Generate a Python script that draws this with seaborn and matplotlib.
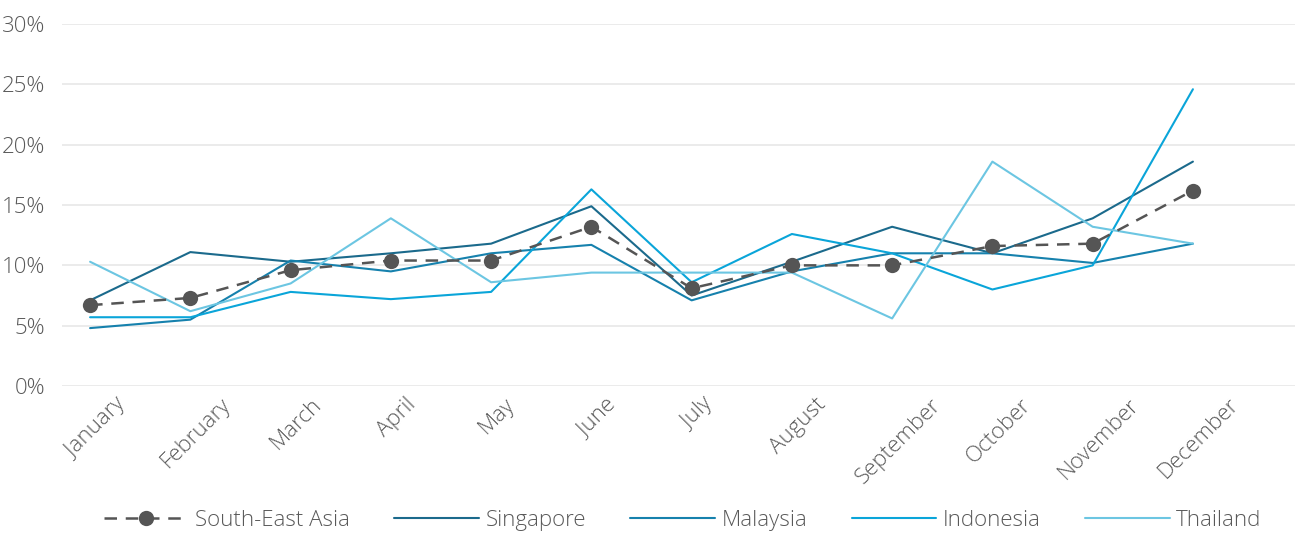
"""
plot.py
-------
Monthly share by country vs the South-East Asia average.
Saves out.png (1303x533).
"""

import matplotlib
matplotlib.use("Agg")  # no display here
import matplotlib.pyplot as plt
import matplotlib.transforms as mtransforms
import seaborn as sns
import numpy as np

months = ["January", "February", "March", "April", "May", "June",
          "July", "August", "September", "October", "November", "December"]

sea = [6.7, 7.3, 9.6, 10.4, 10.4, 13.2, 8.1, 10.0, 10.0, 11.6, 11.8, 16.2]
singapore = [7.1, 11.1, 10.3, 11.0, 11.8, 14.9, 7.5, 10.3, 13.2, 11.0, 13.9, 18.6]
malaysia = [4.8, 5.5, 10.4, 9.5, 11.0, 11.7, 7.1, 9.5, 11.0, 11.0, 10.2, 11.8]
indonesia = [5.7, 5.7, 7.8, 7.2, 7.8, 16.3, 8.6, 12.6, 11.0, 8.0, 10.0, 24.6]
thailand = [10.3, 6.2, 8.5, 13.9, 8.6, 9.4, 9.4, 9.4, 5.6, 18.6, 13.2, 11.8]

y_ticks = [0, 5, 10, 15, 20, 25, 30]

TEXT = "#595959"

sns.set_theme(style="white")
plt.rcParams["font.family"] = ["Open Sans", "DejaVu Sans"]

fig = plt.figure(figsize=(13.03, 5.33), dpi=100)
ax = fig.add_axes([0.0476, 0.2758, 0.9464, 0.679])

x = np.arange(len(months))

country_lines = [
    ("Singapore", singapore, "#1b6a8c"),
    ("Malaysia", malaysia, "#1681ad"),
    ("Indonesia", indonesia, "#0aa5d9"),
    ("Thailand", thailand, "#6cc6e2"),
]

# average goes first in the legend, but on top of the country lines
sns.lineplot(x=x, y=sea, ax=ax, color="#555555", linestyle="--",
             linewidth=1.8, marker="o", markersize=11, markeredgewidth=0,
             label="South-East Asia", zorder=5)
ax.lines[-1].set_dashes((5, 3.5))

for name, values, color in country_lines:
    sns.lineplot(x=x, y=values, ax=ax, color=color, linewidth=1.5,
                 label=name, zorder=3)

ax.set_xlim(-0.28, 12.02)
ax.set_ylim(0, 30)
ax.set_yticks(y_ticks)
ax.set_yticklabels([f"{v}%" for v in y_ticks])
ax.set_xticks(x)
ax.set_xticklabels(months, rotation=45, ha="center", va="top")

ax.grid(axis="y", color="#e9e9e9", linewidth=1.3)
ax.set_axisbelow(True)
sns.despine(ax=ax, left=True, bottom=True)
ax.tick_params(axis="both", length=0, labelsize=16, labelcolor=TEXT)
ax.tick_params(axis="y", pad=12)
ax.tick_params(axis="x", pad=6)

# nudge the rotated month labels a little to the right, like the original
shift = mtransforms.ScaledTranslation(6 / 100, 0, fig.dpi_scale_trans)
for lbl in ax.get_xticklabels():
    lbl.set_transform(lbl.get_transform() + shift)
for lbl in ax.get_xticklabels() + ax.get_yticklabels():
    lbl.set_fontweight("light")

ax.get_legend().remove()
handles, labels = ax.get_legend_handles_labels()
leg = fig.legend(handles, labels, loc="center", bbox_to_anchor=(0.524, 0.024),
                 ncol=5, frameon=False, fontsize=16, handlelength=3.8,
                 handletextpad=0.3, columnspacing=2.0)
for t in leg.get_texts():
    t.set_color(TEXT)
    t.set_fontweight("light")

fig.savefig("out.png", dpi=100)
plt.close(fig)
